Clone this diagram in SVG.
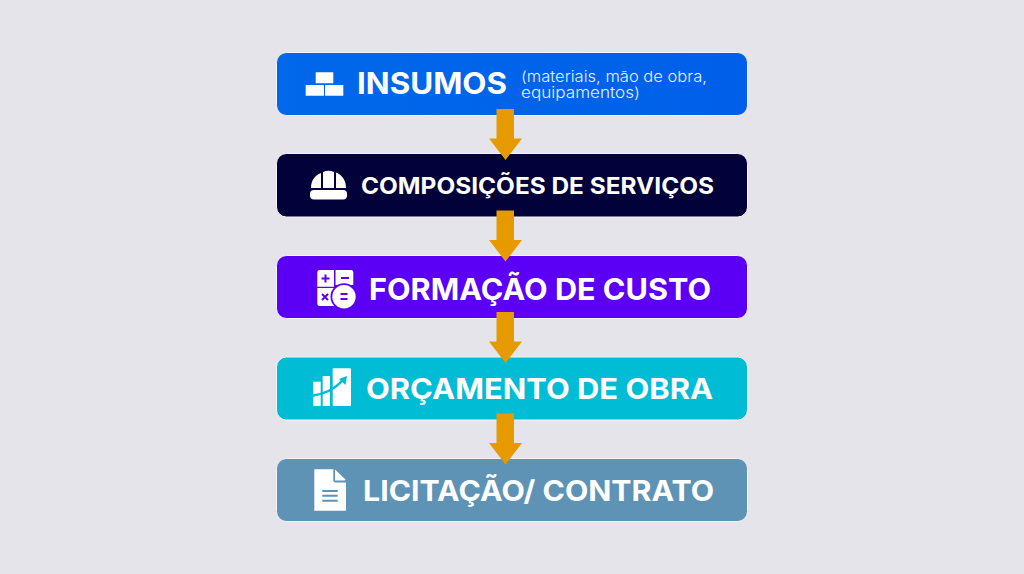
<svg xmlns="http://www.w3.org/2000/svg" width="1024" height="574" viewBox="0 0 1024 574">
<defs>
<linearGradient id="blue" x1="0" y1="0" x2="1" y2="0"><stop offset="0" stop-color="#0068ea"/><stop offset="1" stop-color="#005fe9"/></linearGradient>
<path id="arrow" d="M496.500 0H514V29.500H522L505.500 51L489 29.500H496.500Z"/>
</defs>
<style>
.box{stroke:#f6f4f6;stroke-width:1}
.t{font-family:Inter,"Liberation Sans",sans-serif;font-weight:700;fill:#fff}
.s{font-family:Inter,"Liberation Sans",sans-serif;font-weight:300;fill:#e6efff;font-size:15px}
.i{fill:#fff}
.arr{fill:#e69a00}
</style>
<rect width="1024" height="574" fill="#e5e4ea"/>
<g id="node-insumos">
<rect class="box" x="276.500" y="52.500" width="471" height="63" rx="10" fill="url(#blue)"/>
<g class="i"><rect x="315.700" y="72.300" width="17.600" height="11" rx=".5"/><rect x="305.700" y="85" width="18.300" height="10.800" rx=".5"/><rect x="325" y="85" width="18.300" height="10.800" rx=".5"/></g>
<text class="t" x="357" y="94" font-size="29.500" textLength="150" lengthAdjust="spacingAndGlyphs">INSUMOS</text>
<text class="s" x="521" y="82" textLength="186" lengthAdjust="spacingAndGlyphs">(materiais, mão de obra,</text>
<text class="s" x="521" y="97.500" textLength="119" lengthAdjust="spacingAndGlyphs">equipamentos)</text>
</g>
<g id="node-composicoes">
<rect class="box" x="276.500" y="153.500" width="471" height="63.500" rx="10" fill="#02013a"/>
<g class="i"><path d="M311 188C311 180 315 175.500 321 173V188ZM323 188V172Q328.500 169.500 334 172V188ZM336 188V172.500C342 175 346 180 346 188Z"/><rect x="310" y="190" width="37" height="9.500" rx="4"/></g>
<text class="t" x="361" y="193.500" font-size="23" textLength="353" lengthAdjust="spacingAndGlyphs">COMPOSIÇÕES DE SERVIÇOS</text>
</g>
<g id="node-formacao">
<rect class="box" x="276.500" y="255.500" width="471" height="63" rx="10" fill="#5b00f5"/>
<g class="i"><path d="M319.500 270H334V286.700H317.300V272.200Q317.300 270 319.500 270ZM335.500 270H351Q353.300 270 353.300 272.200V285H335.500ZM317.300 288H334V306H319.500Q317.300 306 317.300 303.800Z"/></g>
<circle cx="344" cy="296.700" r="13.500" fill="#5b00f5"/>
<circle class="i" cx="344" cy="296.700" r="11.700"/>
<g stroke="#5b00f5" stroke-width="2" fill="none"><path d="M321.500 278.500H329.500M325.500 274.500V282.500M341 278H349M322 294L328 300M328 294L322 300M340.500 294H347.500M340.500 299H347.500"/></g>
<text class="t" x="369" y="300" font-size="30" textLength="342" lengthAdjust="spacingAndGlyphs">FORMAÇÃO DE CUSTO</text>
</g>
<g id="node-orcamento">
<rect class="box" x="276.500" y="357" width="471" height="63" rx="10" fill="#00bcd4"/>
<g class="i"><rect x="313.300" y="381.700" width="7.400" height="24.300"/><rect x="322.700" y="376" width="7.300" height="30"/><rect x="332.700" y="368.300" width="18.300" height="37.700" rx="1"/></g>
<path d="M311 396C325 394 336 388 343 380" fill="none" stroke="#00bcd4" stroke-width="2.500"/>
<path d="M347 376L345.500 385L339 379Z" fill="#00bcd4"/>
<text class="t" x="366" y="399" font-size="29" textLength="347" lengthAdjust="spacingAndGlyphs">ORÇAMENTO DE OBRA</text>
</g>
<g id="node-licitacao">
<rect class="box" x="276.500" y="458.500" width="471" height="63" rx="10" fill="#5e93b5"/>
<g class="i"><path d="M314.300 469.300H333.300V480.500Q333.300 482.500 335.500 482.500H346V510.700H314.300Z"/><path d="M335 469.500L345.500 479.500Q345.500 480.500 344 480.500H335Z"/></g>
<g stroke="#5e93b5" stroke-width="2"><path d="M322.300 491H337.700M322.300 495.700H337.700M322.300 500.700H337.700"/></g>
<text class="t" x="363" y="500.500" font-size="28.500" textLength="351" lengthAdjust="spacingAndGlyphs">LICITAÇÃO/ CONTRATO</text>
</g>
<g id="connectors" class="arr">
<use href="#arrow" y="109"/>
<use href="#arrow" y="210.500"/>
<use href="#arrow" y="312"/>
<use href="#arrow" y="413.500"/>
</g>
</svg>
